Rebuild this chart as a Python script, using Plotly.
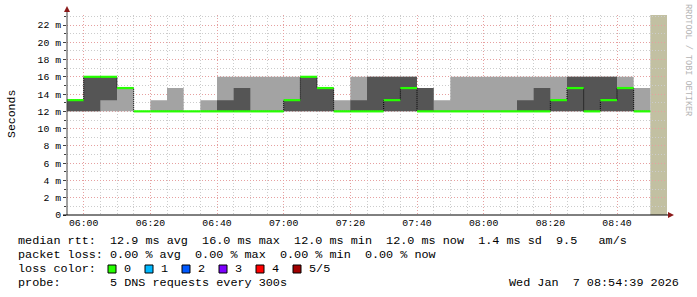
import plotly.graph_objects as go
import pandas as pd

# ---------------- data ----------------
bin_start = list(pd.date_range("2026-01-07 05:55", periods=35, freq="5min"))
bin_end_last = pd.Timestamp("2026-01-07 08:50")
unknown_start = pd.Timestamp("2026-01-07 08:50")
unknown_end = pd.Timestamp("2026-01-07 08:55")

ping1 = [12, 12, 12, 12, 12, 12, 12, 12, 12, 12, 12, 12, 12, 12, 12, 12, 12, 12,
         12, 12, 12, 12, 12, 12, 12, 12, 12, 12, 12, 12, 12, 12, 12, 12, 12]
ping2 = [12, 12, 13.3, 14.7, 12, 12, 12, 12, 12, 12, 12, 12, 12, 12, 12, 12, 12, 12,
         12, 12, 12, 12, 12, 12, 12, 12, 12, 12, 12, 12, 12, 12, 12, 12, 12]
median = [13.3, 16, 16, 14.7, 12, 12, 12, 12, 12, 12, 12, 12, 12, 13.3, 16, 14.7, 12, 12,
          12, 13.3, 14.7, 12, 12, 12, 12, 12, 12, 12, 12, 13.3, 14.7, 12, 13.3, 14.7, 12]
ping4 = [13.3, 16, 16, 14.7, 12, 12, 12, 12, 12, 13.3, 14.7, 12, 12, 13.3, 16, 14.7, 12, 13.3,
         16, 16, 16, 14.7, 12, 12, 12, 12, 12, 13.3, 14.7, 13.3, 16, 16, 16, 14.7, 12]
ping5 = [13.3, 16, 16, 14.7, 12, 13.3, 14.7, 12, 13.3, 16, 16, 16, 16, 16, 16, 14.7, 13.3, 16,
         16, 16, 16, 14.7, 13.3, 16, 16, 16, 16, 16, 16, 16, 16, 16, 16, 16, 14.7]

y_tick_vals = [0, 2, 4, 6, 8, 10, 12, 14, 16, 18, 20, 22]
y_tick_text = ["0", "2 m", "4 m", "6 m", "8 m", "10 m", "12 m", "14 m", "16 m", "18 m", "20 m", "22 m"]

loss_labels = ["0", "1", "2", "3", "4", "5/5"]
loss_colors = ["#26ff00", "#00b8ff", "#0059ff", "#7e00ff", "#ff0000", "#a10000"]

legend_lines = [
    "median rtt:  12.9 ms avg  16.0 ms max  12.0 ms min  12.0 ms now  1.4 ms sd  9.5   am/s",
    "packet loss: 0.00 % avg  0.00 % max  0.00 % min  0.00 % now",
    "loss color:",
    "probe:       5 DNS requests every 300s",
]
timestamp = "Wed Jan  7 08:54:39 2026"

# ---------------- layout constants ----------------
W, H = 697, 297
L, R, T, B = 67, 30, 15, 82
PW, PH = W - L - R, H - T - B
FONT = "Liberation Mono"


def px(xp):
    return (xp - L) / PW


def py(yp):
    return (T + PH - yp) / PH


def nb(s):
    return s.replace(" ", "\u00a0")


xs = bin_start + [bin_end_last]


def ext(v):
    return list(v) + [v[-1]]


LIGHT = "#a3a3a3"
DARK = "#555555"
GREEN = loss_colors[0]

fig = go.Figure()
fig.add_trace(go.Scatter(x=xs, y=ext(ping1), mode="lines", line=dict(width=0, shape="hv"),
                         hoverinfo="skip", showlegend=False))
fig.add_trace(go.Scatter(x=xs, y=ext(ping5), mode="lines", line=dict(width=0, shape="hv"),
                         fill="tonexty", fillcolor=LIGHT, hoverinfo="skip", showlegend=False))
fig.add_trace(go.Scatter(x=xs, y=ext(ping2), mode="lines", line=dict(width=0, shape="hv"),
                         hoverinfo="skip", showlegend=False))
fig.add_trace(go.Scatter(x=xs, y=ext(ping4), mode="lines", line=dict(width=0, shape="hv"),
                         fill="tonexty", fillcolor=DARK, hoverinfo="skip", showlegend=False))
# median riser (dotted)
fig.add_trace(go.Scatter(x=xs, y=ext(median), mode="lines",
                         line=dict(width=1, shape="hv", color="#000000", dash="1px,1px"),
                         hoverinfo="skip", showlegend=False))
# median horizontal segments in loss colour
gx, gy = [], []
for i, m in enumerate(median):
    s = bin_start[i]
    e = bin_start[i + 1] if i + 1 < len(bin_start) else bin_end_last
    gx += [s, e, None]
    gy += [m, m, None]
fig.add_trace(go.Scatter(x=gx, y=gy, mode="lines", line=dict(width=2.2, color=GREEN),
                         hoverinfo="skip", showlegend=False))

shapes = []
# unknown (current) bin
shapes.append(dict(type="rect", xref="x", yref="paper", x0=unknown_start, x1=unknown_end,
                   y0=0, y1=1, fillcolor="#c2c0a2", line=dict(width=0), layer="below"))
# axis lines
shapes.append(dict(type="line", xref="paper", yref="paper", x0=px(67), x1=px(67),
                   y0=py(215), y1=py(10), line=dict(color="#404040", width=1)))
shapes.append(dict(type="line", xref="paper", yref="paper", x0=px(63), x1=px(670),
                   y0=py(215), y1=py(215), line=dict(color="#000000", width=1)))
# arrow heads
shapes.append(dict(type="path", xref="paper", yref="paper",
                   path=f"M {px(64)},{py(12)} L {px(70)},{py(12)} L {px(67)},{py(6)} Z",
                   fillcolor="#8b1a1a", line=dict(width=0)))
shapes.append(dict(type="path", xref="paper", yref="paper",
                   path=f"M {px(668)},{py(212)} L {px(668)},{py(218)} L {px(674)},{py(215)} Z",
                   fillcolor="#8b1a1a", line=dict(width=0)))

annotations = []
line_y = [241, 255, 269, 283]
for txt, yy in zip(legend_lines, line_y):
    annotations.append(dict(text=nb(txt), xref="paper", yref="paper", x=px(16), y=py(yy),
                            xanchor="left", yanchor="middle", showarrow=False,
                            font=dict(family=FONT, size=11.8, color="#000000")))
annotations.append(dict(text=nb(timestamp), xref="paper", yref="paper", x=px(681), y=py(283),
                        xanchor="right", yanchor="middle", showarrow=False,
                        font=dict(family=FONT, size=11.8, color="#000000")))
# loss colour boxes + labels
for k, (lab, col) in enumerate(zip(loss_labels, loss_colors)):
    bx = 108 + 37 * k
    shapes.append(dict(type="rect", xref="paper", yref="paper", x0=px(bx), x1=px(bx + 8),
                       y0=py(273), y1=py(265), fillcolor=col,
                       line=dict(color="#000000", width=1)))
    annotations.append(dict(text=nb(lab), xref="paper", yref="paper", x=px(bx + 14), y=py(269),
                            xanchor="left", yanchor="middle", showarrow=False,
                            font=dict(family=FONT, size=11.8, color="#000000")))
# axis title and watermark
annotations.append(dict(text="Seconds", xref="paper", yref="paper", x=px(11), y=py(114),
                        xanchor="center", yanchor="middle", showarrow=False, textangle=-90,
                        font=dict(family=FONT, size=11.5, color="#000000")))
annotations.append(dict(text=nb("RRDTOOL / TOBI OETIKER"), xref="paper", yref="paper",
                        x=px(688), y=py(60), xanchor="center", yanchor="middle",
                        showarrow=False, textangle=90,
                        font=dict(family=FONT, size=8.5, color="#b4b4b4")))

fig.update_layout(
    width=W, height=H, autosize=False,
    margin=dict(l=L, r=R, t=T, b=B, pad=0),
    paper_bgcolor="#ffffff", plot_bgcolor="#ffffff",
    showlegend=False,
    shapes=shapes, annotations=annotations,
    xaxis=dict(
        type="date", range=[pd.Timestamp("2026-01-07 05:55"), unknown_end],
        tick0="2026-01-07 06:00", dtick=20 * 60 * 1000, tickformat="%H:%M",
        showgrid=True, gridcolor="#e6a0a0", griddash="1px,2px", gridwidth=1,
        minor=dict(dtick=5 * 60 * 1000, showgrid=True, gridcolor="#cccccc",
                   griddash="1px,2px"),
        zeroline=False, showline=False,
        ticks="", ticklen=0,
        tickfont=dict(family=FONT, size=9.8, color="#000000"),
        fixedrange=True,
    ),
    yaxis=dict(
        range=[0, PH / ((215 - 25) / 22)],
        tickvals=y_tick_vals, ticktext=y_tick_text,
        showgrid=True, gridcolor="#e6a0a0", griddash="1px,2px", gridwidth=1,
        minor=dict(dtick=1, showgrid=True, gridcolor="#cccccc", griddash="1px,2px",
                   ticks="outside", ticklen=2, tickcolor="#404040"),
        zeroline=False, showline=False,
        ticks="outside", ticklen=3, tickcolor="#404040",
        tickfont=dict(family=FONT, size=9.8, color="#000000"),
        fixedrange=True,
    ),
)

fig.write_html("out.html")
